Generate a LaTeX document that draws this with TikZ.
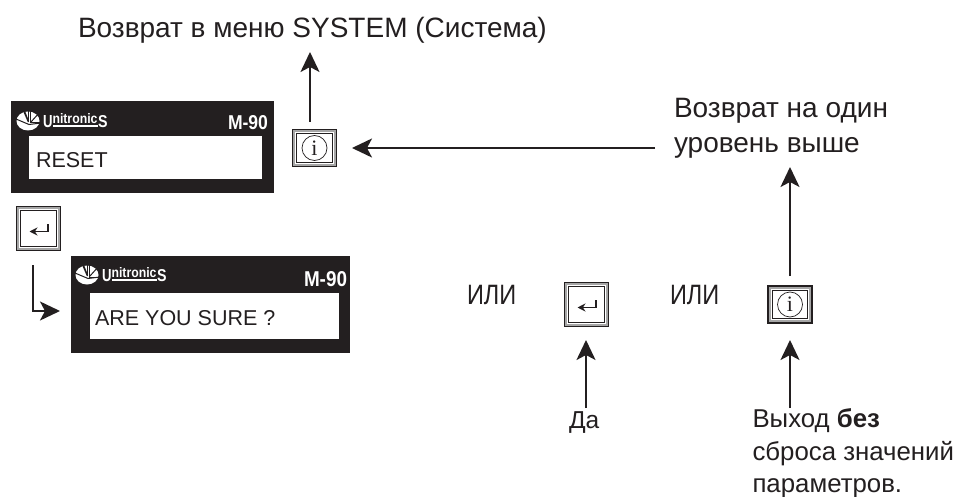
\documentclass[tikz,border=0pt]{standalone}
\usepackage{graphicx}
\usepackage{fontspec}
\setmainfont{Liberation Sans}
\newfontfamily\serfont{Liberation Serif}
\usetikzlibrary{arrows.meta}
\definecolor{ink}{HTML}{231F20}
\tikzset{
  x=1pt,y=-1pt,
  every node/.style={inner sep=0pt,outer sep=0pt,text=ink},
  lbl/.style={font=\fontsize{28}{30}\selectfont,anchor=base west,align=left},
  small/.style={font=\fontsize{25.8}{30}\selectfont,anchor=base west,align=left},
  panelbox/.style={fill=ink,draw=none,anchor=north west},
  screen/.style={fill=white,draw=none,anchor=north west},
  screentext/.style={font=\fontsize{21.5}{24}\selectfont,anchor=base west},
  logotext/.style={anchor=south west,text=white,font=\bfseries},
  keybox/.style={fill=gray!70,draw=ink,line width=1.2pt},
  conn/.style={draw=ink,line width=1.8pt,-{Stealth[length=20pt,width=19pt,inset=5pt]}}
}
\newcommand{\mkpanel}[9]{%
  \node[panelbox,minimum width=#4pt,minimum height=#5pt] (#1) at (#2,#3) {};
  \node[screen,minimum width=#8pt,minimum height=#9pt] (#1s) at (#6,#7) {};
}
\newcommand{\mklogo}[3]{%
  \begin{scope}[shift={(#1,#2)}]
    \fill[white] (11,9) ellipse[x radius=11.5,y radius=9.5];
    \fill[ink] (6,-1) -- (8,-1) -- (12,9) -- (11,10.5) -- cycle;
    \fill[ink] (10.5,-1) rectangle (12,10);
    \draw[ink,line width=1pt] (13.5,-1) -- (13.5,11) -- (24,11);
    \draw[ink,line width=1pt] (13.5,10.5) -- (23,0);
    \draw[ink,line width=1pt] (-1,7) -- (12,12.5) -- (24,11);
    \node[logotext] (#3u) at (26,15.5) {\resizebox{9.5pt}{12pt}{U}};
    \node[logotext] (#3t) at (35.5,11.5) {\resizebox{45pt}{10pt}{nitronic}};
    \node[logotext] (#3e) at (81,15.5) {\resizebox{9.5pt}{12pt}{S}};
    \fill[white] (35.5,13) rectangle (80.5,14.6);
  \end{scope}
}
\newcommand{\mkmodel}[5]{%
  \node[text=white,font=\bfseries,anchor=north east] (#1) at (#2,#3) {\resizebox{#4pt}{#5pt}{M-90}};
}
\newcommand{\mkkey}[5]{%
  \node[keybox,minimum width=#4pt,minimum height=#5pt] (#1) at (#2,#3) {};
  \draw[ink,line width=1.6pt] (#1.south west) -- (#1.south east) -- (#1.north east);
  \fill[white] ([shift={(2.6pt,2.6pt)}]#1.south west) rectangle ([shift={(-2.6pt,-2.6pt)}]#1.north east);
  \draw[ink,line width=0.9pt,fill=white] ([shift={(4.4pt,4.4pt)}]#1.south west) rectangle ([shift={(-4.4pt,-4.4pt)}]#1.north east);
}
\newcommand{\infoglyph}[1]{%
  \node[circle,draw=ink,line width=0.7pt,minimum size=25pt,font=\serfont\fontsize{22}{22}\selectfont] (#1i) at (#1) {i};
}
\newcommand{\enterglyph}[1]{%
  \draw[ink,line width=1.7pt,{Stealth[length=8pt,width=8pt]}-] ([shift={(-9pt,-3pt)}]#1.center) -- ([shift={(9.5pt,-3pt)}]#1.center) -- ([shift={(9.5pt,4.5pt)}]#1.center);
}
\begin{document}
\begin{tikzpicture}
\useasboundingbox (0,0) rectangle (958,497);
\fill[white] (0,0) rectangle (958,497);

\node[lbl] (title) at (78,38) {Возврат в меню SYSTEM (Система)};
\node[lbl] (up1) at (674,118) {Возврат на один};
\node[lbl] (up2) at (674,153) {уровень выше};
\node[lbl] (or1) at (467,304) {\scalebox{0.84}[1]{ИЛИ}};
\node[lbl] (or2) at (670,304) {\scalebox{0.84}[1]{ИЛИ}};
\node[small,font=\fontsize{24.5}{30}\selectfont] (yes) at (569,428) {Да};
\node[small] (exit1) at (752.5,427) {Выход \textbf{без}};
\node[small] (exit2) at (752.5,460) {сброса значений};
\node[small] (exit3) at (752.5,492) {параметров.};

\mkpanel{p}{11}{101}{263}{92}{29}{136}{233}{43}
\mklogo{17}{112}{la}
\mkmodel{pm}{268}{116}{40}{14}
\node[screentext] (pt) at (36,168) {RESET};

\mkpanel{q}{71}{256}{279}{97}{90}{293}{249}{46}
\mklogo{76}{266}{lb}
\mkmodel{qm}{347}{271}{43}{15}
\node[screentext] (qt) at (95,325) {ARE YOU SURE ?};

\mkkey{kinfo}{314.5}{148}{44}{37}
\infoglyph{kinfo}
\mkkey{kenter}{38.5}{228.5}{44}{44}
\enterglyph{kenter}
\mkkey{kenterb}{586.5}{304.5}{44}{44}
\enterglyph{kenterb}
\mkkey{kinfob}{790}{304.5}{44}{37}
\infoglyph{kinfob}

\coordinate (t1) at (310,52);
\coordinate (f1) at (310,122);
\draw[conn] (f1) -- (t1);
\coordinate (f2) at (655,148);
\coordinate (t2) at (352,148);
\draw[conn] (f2) -- (t2);
\coordinate (f3) at (790,276);
\coordinate (t3) at (790,167);
\draw[conn] (f3) -- (t3);
\coordinate (f4) at (586,408);
\coordinate (t4) at (586,340);
\draw[conn] (f4) -- (t4);
\coordinate (f5) at (790,408);
\coordinate (t5) at (790,340);
\draw[conn] (f5) -- (t5);
\coordinate (f6) at (33,265);
\coordinate (c6) at (33,311);
\coordinate (t6) at (60,311);
\draw[conn] (f6) -- (c6) -- (t6);
\end{tikzpicture}
\end{document}
